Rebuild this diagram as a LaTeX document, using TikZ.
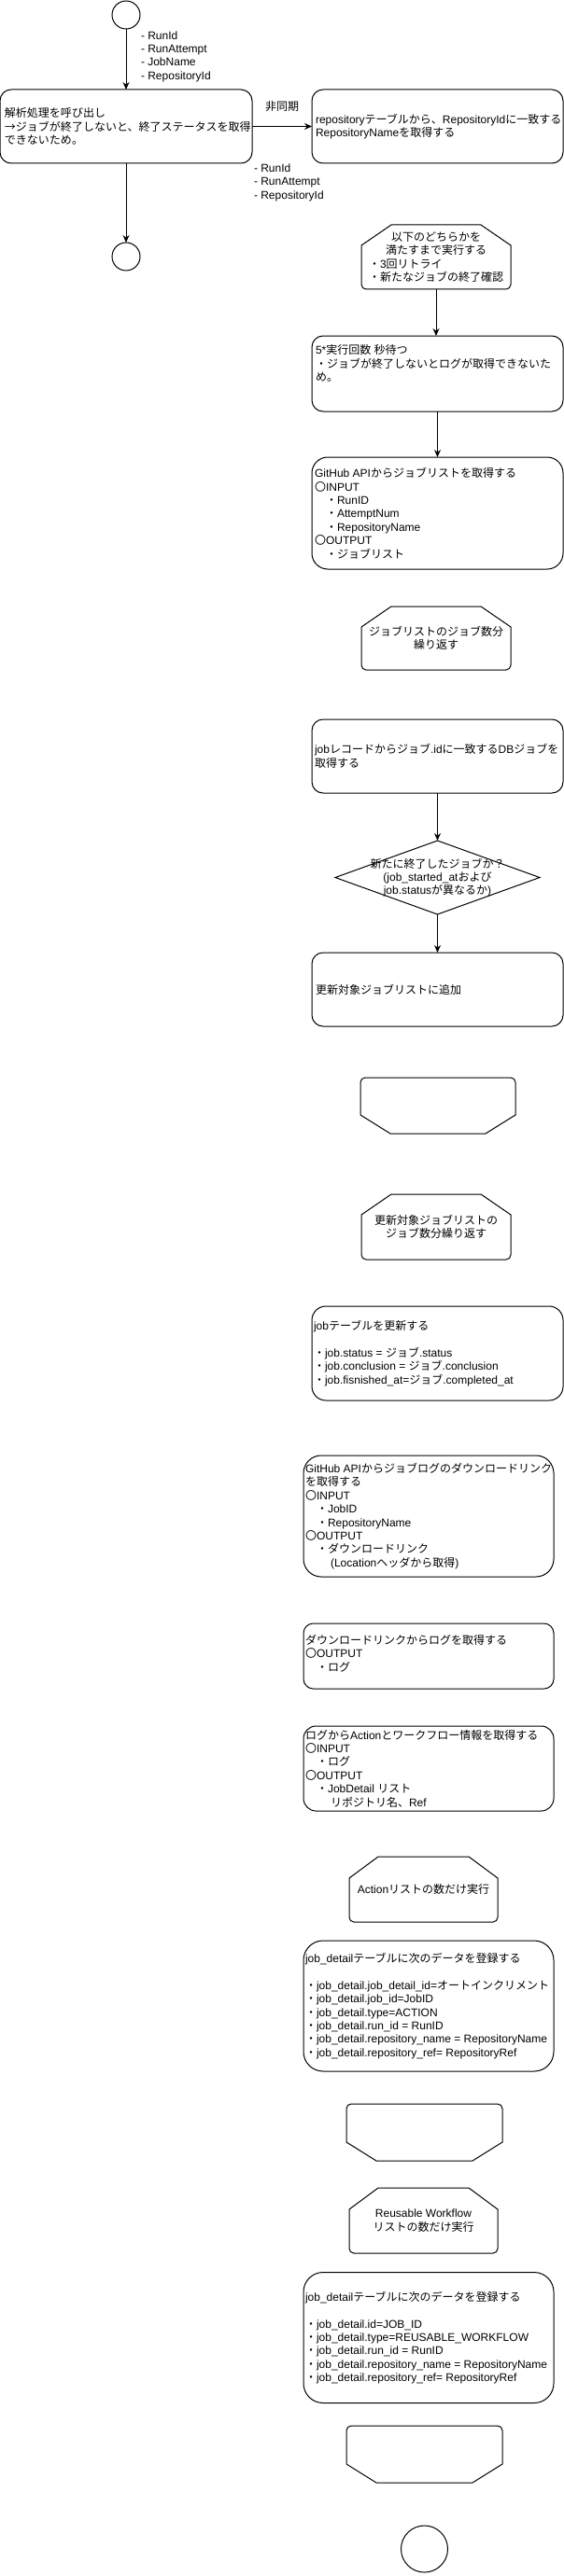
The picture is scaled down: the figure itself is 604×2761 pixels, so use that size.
\documentclass[tikz,border=0pt]{standalone}
\usepackage{fontspec}
\setmainfont{Liberation Sans}
\newfontfamily\cjkf{Noto Sans CJK JP}
\usetikzlibrary{arrows.meta}
\XeTeXinterchartokenstate=1
\newXeTeXintercharclass\cjkcls
\newcount\mycnt
\def\setcjkrange#1#2{\mycnt=#1\relax\loop\XeTeXcharclass\mycnt=\cjkcls\relax\advance\mycnt by 1\relax\ifnum\mycnt<#2\relax\repeat}
\setcjkrange{"3000}{"3100}
\setcjkrange{"4E00}{"A000}
\setcjkrange{"FF00}{"FFF0}
\XeTeXcharclass"2192=\cjkcls
\XeTeXinterchartoks 0 \cjkcls = {\cjkf}
\XeTeXinterchartoks 4095 \cjkcls = {\cjkf}
\XeTeXinterchartoks \cjkcls 0 = {\rmfamily}
\XeTeXinterchartoks \cjkcls 4095 = {\rmfamily}
% loop start: chamfered top, rounded bottom
\newcommand\loopstartshape[3]{\draw[line] ([xshift=#2]#1.north west) -- ([xshift=-#2]#1.north east) -- ([yshift=-#3]#1.north east) -- ([yshift=5pt]#1.south east) arc[start angle=0,end angle=-90,radius=5pt] -- ([xshift=5pt]#1.south west) arc[start angle=-90,end angle=-180,radius=5pt] -- ([yshift=-#3]#1.north west) -- cycle;}
% loop end: rounded top, chamfered bottom
\newcommand\loopendshape[3]{\draw[line] ([xshift=5pt]#1.north west) -- ([xshift=-5pt]#1.north east) arc[start angle=90,end angle=0,radius=5pt] -- ([yshift=#3]#1.south east) -- ([xshift=-#2]#1.south east) -- ([xshift=#2]#1.south west) -- ([yshift=#3]#1.south west) -- ([yshift=-5pt]#1.north west) arc[start angle=180,end angle=90,radius=5pt] -- cycle;}
\begin{document}
\begin{tikzpicture}[x=1pt,y=-1pt,
  every node/.style={font=\fontsize{12}{14.4}\selectfont, inner sep=0pt, outer sep=0pt},
  line/.style={draw=black, line width=1pt},
  arr/.style={line, -{Stealth[length=8pt,width=7pt]}},
  rbox/.style={draw=black, line width=1pt, rounded corners=#1},
  boxsize/.style 2 args={minimum width=#1, minimum height=#2},
  txt/.style={align=left, anchor=west},
  ctxt/.style={align=center},
  circ/.style={circle, draw=black, line width=1pt, minimum size=#1}
]
\fill[white] (0,0) rectangle (604,2761);
\useasboundingbox (0,0) rectangle (604,2761);

% ---- top part
\node[circ=30pt] (start) at (135,16) {};
\node[rbox=12pt, boxsize={270pt}{79pt}] (b1) at (135,135.5) {};
\node[txt] (b1t) at ([xshift=5pt]b1.west) {解析処理を呼び出し\\→ジョブが終了しないと、終了ステータスを取得\\できないため。};
\node[rbox=12pt, boxsize={269pt}{79pt}] (b2) at (468.5,135.5) {};
\node[txt] (b2t) at ([xshift=4pt]b2.west) {repositoryテーブルから、RepositoryIdに一致する\\RepositoryNameを取得する};
\node[circ=30pt] (c2) at (135,275) {};

\draw[arr] (start.south) -- (start.south |- b1.north);
\draw[arr] (b1.east) -- (b2.west);
\draw[arr] (b1.south) -- (c2.north);

\node[txt] (lab1) at (151,60.6) {- RunId\\- RunAttempt\\- JobName\\- RepositoryId};
\node (lab2) at (302,114) {非同期};
\node[txt] (lab3) at (272,195.5) {- RunId\\- RunAttempt\\- RepositoryId};

% ---- loop 1
\node[boxsize={160pt}{69pt}, ctxt] (h1) at (467,275.5) {以下のどちらかを\\満たすまで実行する\\\makebox[144pt][l]{・3回リトライ}\\・新たなジョブの終了確認};
\loopstartshape{h1}{32pt}{22pt}

\node[rbox=12pt, boxsize={269pt}{81pt}] (b3) at (468.5,400.5) {};
\node[txt] (b3t) at ([xshift=4pt,yshift=11pt]b3.west) {5*実行回数 秒待つ\\・ジョブが終了しないとログが取得できないた\\め。};
\draw[arr] (h1.south) -- (h1.south |- b3.north);

\node[rbox=17pt, boxsize={269pt}{120pt}] (b4) at (468.5,550) {};
\node[txt] (b4t) at ([xshift=3pt]b4.west) {GitHub APIからジョブリストを取得する\\〇INPUT\\\hspace*{12pt}・RunID\\\hspace*{12pt}・AttemptNum\\\hspace*{12pt}・RepositoryName\\〇OUTPUT\\\hspace*{12pt}・ジョブリスト};
\draw[arr] (b3.south) -- (b3.south |- b4.north);

% ---- loop 2
\node[boxsize={160pt}{68pt}, ctxt] (h2) at (467,684) {ジョブリストのジョブ数分\\繰り返す};
\loopstartshape{h2}{32pt}{22pt}

\node[rbox=12pt, boxsize={269pt}{79pt}] (b5) at (468.5,810.5) {};
\node[txt] (b5t) at ([xshift=3pt]b5.west) {jobレコードからジョブ.idに一致するDBジョブを\\取得する};

\node[boxsize={219pt}{79pt}, ctxt] (dia) at (468.5,940.5) {新たに終了したジョブか？\\(job\_started\_atおよび\\job.statusが異なるか)};
\draw[line] (dia.north) -- (dia.east) -- (dia.south) -- (dia.west) -- cycle;
\draw[arr] (b5.south) -- (dia.north);

\node[rbox=12pt, boxsize={269pt}{79pt}] (b6) at (468.5,1060.5) {};
\node[txt] (b6t) at ([xshift=4pt]b6.west) {更新対象ジョブリストに追加};
\draw[arr] (dia.south) -- (b6.north);

\node[boxsize={166pt}{60pt}] (e1) at (469,1185) {};
\loopendshape{e1}{32pt}{20pt}

% ---- loop 3
\node[boxsize={160pt}{70pt}, ctxt] (h3) at (467,1315) {更新対象ジョブリストの\\ジョブ数分繰り返す};
\loopstartshape{h3}{32pt}{22pt}

\node[rbox=15pt, boxsize={269pt}{101pt}] (b7) at (468.5,1450.5) {};
\node[txt] (b7t) at ([xshift=2pt]b7.west) {jobテーブルを更新する\\\mbox{}\\・job.status = ジョブ.status\\・job.conclusion = ジョブ.conclusion\\・job.fisnished\_at=ジョブ.completed\_at};

\node[rbox=19pt, boxsize={268pt}{130pt}] (b8) at (459,1625) {};
\node[txt] (b8t) at ([xshift=2pt]b8.west) {GitHub APIからジョブログのダウンロードリンク\\を取得する\\〇INPUT\\\hspace*{12pt}・JobID\\\hspace*{12pt}・RepositoryName\\〇OUTPUT\\\hspace*{12pt}・ダウンロードリンク\\\hspace*{27pt}(Locationヘッダから取得)};

\node[rbox=10.5pt, boxsize={268pt}{70pt}] (b9) at (459,1775) {};
\node[txt] (b9t) at ([xshift=2pt,yshift=3pt]b9.west) {ダウンロードリンクからログを取得する\\〇OUTPUT\\\hspace*{12pt}・ログ};

\node[rbox=13.5pt, boxsize={268pt}{91pt}] (b10) at (459,1895.5) {};
\node[txt] (b10t) at ([xshift=2pt]b10.west) {ログからActionとワークフロー情報を取得する\\〇INPUT\\\hspace*{12pt}・ログ\\〇OUTPUT\\\hspace*{12pt}・JobDetail リスト\\\hspace*{27pt}リポジトリ名、Ref};

% ---- loop 4
\node[boxsize={159pt}{70pt}, ctxt] (h4) at (453.5,2025) {Actionリストの数だけ実行};
\loopstartshape{h4}{31pt}{23pt}

\node[rbox=21pt, boxsize={268pt}{140pt}] (b11) at (459,2150) {};
\node[txt] (b11t) at ([xshift=2pt]b11.west) {job\_detailテーブルに次のデータを登録する\\\mbox{}\\・job\_detail.job\_detail\_id=オートインクリメント\\・job\_detail.job\_id=JobID\\・job\_detail.type=ACTION\\・job\_detail.run\_id = RunID\\・job\_detail.repository\_name = RepositoryName\\・job\_detail.repository\_ref= RepositoryRef};

\node[boxsize={167pt}{61pt}] (e2) at (454.5,2285.5) {};
\loopendshape{e2}{32pt}{20pt}

% ---- loop 5
\node[boxsize={159pt}{70pt}, ctxt] (h5) at (453.5,2380) {Reusable Workflow\\リストの数だけ実行};
\loopstartshape{h5}{31pt}{23pt}

\node[rbox=21pt, boxsize={268pt}{140pt}] (b12) at (459,2505.5) {};
\node[txt] (b12t) at ([xshift=2pt]b12.west) {job\_detailテーブルに次のデータを登録する\\\mbox{}\\・job\_detail.id=JOB\_ID\\・job\_detail.type=REUSABLE\_WORKFLOW\\・job\_detail.run\_id = RunID\\・job\_detail.repository\_name = RepositoryName\\・job\_detail.repository\_ref= RepositoryRef};

\node[boxsize={167pt}{61pt}] (e3) at (454.5,2630.5) {};
\loopendshape{e3}{32pt}{20pt}

\node[circ=50pt] (endc) at (454.5,2732) {};
\end{tikzpicture}
\end{document}
